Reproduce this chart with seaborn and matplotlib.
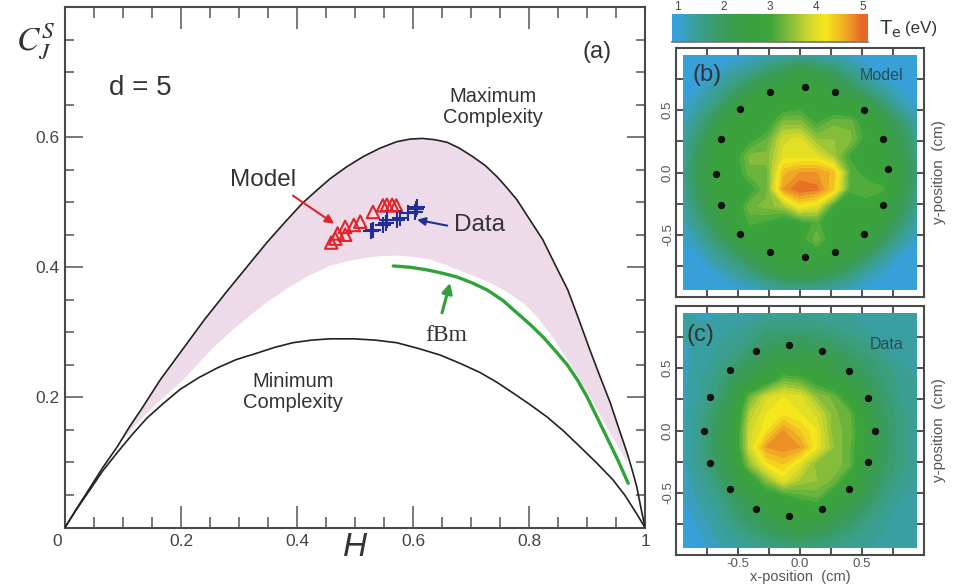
#%% LIBS
import numpy as np
import pandas as pd
import matplotlib.pyplot as plt
import seaborn as sns
from matplotlib.colors import LinearSegmentedColormap
from matplotlib.transforms import ScaledTranslation

#%% DATA :: PANEL A
max_H = [0, .02, .043, .065, .09, .11, .134, .165, .198, .24, .281, .315, .348, .38, .41, .435, .457, .485, .514, .543, .572, .595, .616, .638, .659, .68, .703, .725, .745, .762, .779, .80, .824, .845, .867, .885, .905, .922, .94, .955, .969, .978, .986, .993, 1]
max_C = [0, .029, .061, .092, .124, .153, .185, .228, .268, .319, .365, .402, .438, .47, .499, .519, .536, .554, .57, .583, .593, .597, .598, .596, .592, .583, .57, .556, .539, .522, .504, .475, .442, .404, .365, .322, .273, .233, .192, .152, .115, .088, .062, .03, 0]
min_H = [0, .02, .043, .065, .09, .115, .141, .17, .198, .23, .262, .295, .331, .362, .393, .425, .457, .497, .535, .572, .61, .647, .682, .716, .745, .772, .80, .831, .86, .888, .917, .945, .965, .985, 1]
min_C = [0, .028, .058, .087, .115, .142, .168, .191, .212, .23, .245, .258, .268, .277, .284, .288, .29, .29, .288, .284, .275, .265, .252, .238, .223, .207, .19, .17, .148, .124, .099, .073, .05, .022, 0]
low_H = [.09, .115, .14, .17, .204, .23, .255, .287, .319, .354, .388, .42, .457, .485, .514, .543, .572, .60, .629, .658, .686, .71, .733, .762, .79, .814, .837, .859, .882, .905, .923, .94, .955, .969]
low_C = [.124, .15, .175, .2, .227, .252, .276, .302, .326, .35, .37, .387, .402, .409, .414, .417, .418, .416, .412, .403, .393, .385, .376, .362, .345, .324, .297, .268, .235, .201, .173, .145, .122, .099]
fbm_H = [.566, .595, .624, .65, .676, .702, .728, .755, .779, .802, .824, .845, .866, .884, .9, .917, .934, .953, .971]
fbm_C = [.402, .4, .396, .391, .385, .376, .365, .349, .33, .312, .293, .272, .25, .226, .201, .17, .139, .104, .068]
model_H = [.459, .466, .47, .483, .483, .498, .509, .531, .548, .555, .564, .571]
model_C = [.438, .444, .452, .45, .462, .465, .47, .485, .495, .496, .496, .495]
data_H = [.528, .531, .548, .553, .555, .572, .578, .591, .603, .605, .607]
data_C = [.456, .458, .465, .468, .472, .473, .476, .484, .485, .49, .492]

#%% DATA :: PANELS B, C (Te in eV, rows from top to bottom)
grid_pos = [-.94, -.806, -.671, -.537, -.403, -.269, -.134, 0, .134, .269, .403, .537, .671, .806, .94]
te_model = [
    [1, 1, 1, 1, 1.1, 1.2, 1.3, 1.4, 1.3, 1.2, 1.1, 1, 1, 1, 1],
    [1, 1, 1.1, 1.3, 1.5, 1.8, 2.1, 2.3, 2.2, 1.9, 1.5, 1.2, 1, 1, 1],
    [1, 1.1, 1.4, 1.7, 2.2, 2.5, 2.6, 2.7, 2.6, 2.4, 2.1, 1.6, 1.3, 1.1, 1],
    [1.1, 1.3, 1.7, 2.3, 2.6, 2.7, 2.8, 2.9, 2.8, 2.7, 2.6, 2.3, 1.8, 1.3, 1.1],
    [1.2, 1.6, 2.2, 2.6, 2.7, 2.8, 3.4, 3.4, 3.0, 3.3, 3.3, 2.8, 2.4, 1.8, 1.3],
    [1.3, 1.9, 2.5, 2.7, 2.9, 3.2, 3.9, 4.0, 3.5, 3.5, 3.4, 2.9, 2.6, 2.1, 1.5],
    [1.4, 2.1, 2.6, 2.8, 3.4, 3.4, 4.0, 4.0, 4.0, 3.6, 3.0, 2.8, 2.6, 2.3, 1.6],
    [1.5, 2.2, 2.6, 2.8, 3.3, 3.3, 4.5, 4.7, 4.7, 4.5, 3.2, 2.9, 2.7, 2.4, 1.7],
    [1.4, 2.1, 2.6, 2.7, 2.9, 3.3, 4.7, 5.0, 4.9, 4.4, 3.1, 3.2, 3.1, 2.3, 1.6],
    [1.3, 1.9, 2.5, 2.7, 3.3, 3.4, 3.6, 4.2, 4.0, 3.0, 2.8, 2.9, 2.6, 2.1, 1.5],
    [1.2, 1.6, 2.2, 2.6, 3.1, 3.0, 2.7, 2.9, 3.1, 2.8, 2.7, 2.7, 2.4, 1.8, 1.3],
    [1.1, 1.3, 1.8, 2.3, 2.6, 2.7, 2.7, 2.9, 3.3, 2.8, 2.6, 2.5, 2.0, 1.4, 1.1],
    [1, 1.1, 1.4, 1.7, 2.2, 2.5, 2.6, 2.7, 2.7, 2.6, 2.4, 1.9, 1.4, 1.1, 1],
    [1, 1, 1.1, 1.3, 1.6, 2.0, 2.3, 2.4, 2.3, 2.1, 1.7, 1.3, 1.1, 1, 1],
    [1, 1, 1, 1, 1.1, 1.2, 1.4, 1.5, 1.4, 1.2, 1.1, 1, 1, 1, 1],
]
te_data = [
    [1.3, 1.2, 1.2, 1.3, 1.3, 1.4, 1.4, 1.4, 1.4, 1.4, 1.4, 1.3, 1.3, 1.3, 1.3],
    [1.3, 1.3, 1.4, 1.4, 1.5, 1.7, 1.7, 1.7, 1.7, 1.6, 1.5, 1.4, 1.4, 1.3, 1.3],
    [1.2, 1.3, 1.4, 1.5, 1.7, 1.9, 2.1, 2.1, 2.0, 1.9, 1.7, 1.6, 1.4, 1.4, 1.3],
    [1.2, 1.3, 1.5, 1.7, 2.0, 2.2, 2.4, 2.4, 2.4, 2.2, 2.0, 1.8, 1.6, 1.4, 1.4],
    [1.2, 1.4, 1.6, 2.0, 2.3, 2.7, 3.3, 3.2, 2.8, 2.5, 2.3, 2.0, 1.7, 1.5, 1.4],
    [1.2, 1.4, 1.7, 2.2, 3.3, 3.9, 4.1, 4.0, 3.5, 3.3, 2.7, 2.2, 1.8, 1.5, 1.4],
    [1.2, 1.5, 1.9, 2.4, 3.7, 4.1, 4.2, 4.1, 3.9, 3.4, 3.2, 2.4, 1.9, 1.6, 1.4],
    [1.2, 1.5, 2.0, 2.5, 3.9, 4.2, 4.7, 4.4, 4.1, 3.4, 3.3, 2.5, 2.0, 1.6, 1.4],
    [1.2, 1.5, 2.0, 2.5, 3.9, 4.7, 4.8, 4.7, 4.1, 3.5, 3.2, 2.5, 2.0, 1.6, 1.4],
    [1.2, 1.5, 1.9, 2.4, 3.5, 4.2, 4.4, 4.0, 3.4, 3.5, 3.2, 2.4, 1.9, 1.6, 1.4],
    [1.1, 1.4, 1.7, 2.2, 2.6, 3.4, 4.0, 3.6, 3.5, 3.3, 2.7, 2.2, 1.8, 1.5, 1.4],
    [1.1, 1.3, 1.5, 1.9, 2.3, 2.6, 2.8, 3.1, 3.2, 2.7, 2.4, 2.0, 1.6, 1.4, 1.3],
    [1.0, 1.2, 1.4, 1.7, 2.0, 2.3, 2.5, 2.6, 2.6, 2.3, 2.0, 1.7, 1.5, 1.3, 1.3],
    [.95, 1.1, 1.3, 1.5, 1.7, 1.9, 2.1, 2.2, 2.1, 1.9, 1.7, 1.5, 1.4, 1.3, 1.3],
    [.9, 1.0, 1.2, 1.3, 1.4, 1.5, 1.6, 1.7, 1.6, 1.5, 1.4, 1.4, 1.3, 1.3, 1.3],
]
probes_b_x = [-.244, .04, .279, -.485, .52, -.635, .668, -.678, .71, -.635, .668, -.483, .52, -.241, .04, .279]
probes_b_y = [.648, .688, .645, .507, .499, .267, .267, -.013, .032, -.259, -.259, -.491, -.491, -.635, -.677, -.635]
probes_c_x = [-.351, -.086, .18, -.568, .394, -.729, .552, -.777, .606, -.724, .552, -.566, .394, -.351, .18, -.086]
probes_c_y = [.635, .689, .635, .483, .477, .271, .265, 0, 0, -.26, -.257, -.472, -.472, -.633, -.633, -.684]

#%% PLOTTING AES
sns.set_theme(style="white")
plt.rcParams['font.family'] = ['Liberation Sans', 'DejaVu Sans']
plt.rcParams['axes.edgecolor'] = '#4a4a4a'
plt.rcParams['text.color'] = '#333333'
W, H_PX = 963, 585
GREY = '#555555'
RED, BLUE, GREEN = '#e0242c', '#1f2f96', '#2fa33a'
te_cmap = LinearSegmentedColormap.from_list("te", [
    (0.0, '#38a0dc'), (0.08, '#3a9fa0'), (0.25, '#3a9c58'), (0.38, '#3aa040'), (0.5, '#3ca53a'),
    (0.6, '#7fbb3c'), (0.7, '#c8d42f'), (0.8, '#f8e81c'), (0.9, '#f0b024'), (1.0, '#e8662a')])

def px_axes(fig, left, top, right, bottom):
    return fig.add_axes([left/W, 1 - bottom/H_PX, (right-left)/W, (bottom-top)/H_PX])

fig = plt.figure(figsize=(9.63, 5.85), dpi=100)

#%% PANEL A
ax = px_axes(fig, 65, 7, 645, 527.5)
upper = [(h, c) for h, c in zip(max_H, max_C) if .09 <= h <= .969]
poly_x = [p[0] for p in upper] + low_H[::-1]
poly_y = [p[1] for p in upper] + low_C[::-1]
ax.fill(poly_x, poly_y, color='#eedbe9', lw=0, zorder=1)
sns.lineplot(x=max_H, y=max_C, ax=ax, color='#222222', lw=1.2, sort=False, estimator=None, zorder=3)
sns.lineplot(x=min_H, y=min_C, ax=ax, color='#222222', lw=1.2, sort=False, estimator=None, zorder=3)
sns.lineplot(x=fbm_H, y=fbm_C, ax=ax, color=GREEN, lw=2.4, sort=False, estimator=None, zorder=3)
ax.scatter(model_H, model_C, marker='^', s=80, facecolors='none', edgecolors=RED, linewidths=1.5, zorder=4)
sns.scatterplot(x=data_H, y=data_C, ax=ax, marker='+', s=120, color=BLUE, linewidth=1.5, zorder=5)

ax.set_xlim(0, 1)
ax.set_ylim(0, 0.8)
ax.set_xticks([0, .2, .4, .6, .8, 1])
ax.set_xticklabels(['0', '0.2', '0.4', '0.6', '0.8', '1'])
ax.set_xticks(np.arange(0, 1.01, .05), minor=True)
ax.set_yticks([.2, .4, .6])
ax.set_yticklabels(['0.2', '0.4', '0.6'])
ax.set_yticks(np.arange(0, .81, .05), minor=True)
ax.tick_params(axis='x', which='major', direction='in', top=True, bottom=True, length=16, width=1.1,
               color=GREY, labelcolor='#444444', labelsize=12.5, pad=5)
ax.tick_params(axis='x', which='minor', direction='in', top=True, bottom=True, length=8, width=1.1, color=GREY)
ax.tick_params(axis='y', which='major', direction='in', left=True, right=True, length=13, width=1.1,
               color=GREY, labelcolor='#444444', labelsize=12.5, pad=4)
ax.tick_params(axis='y', which='minor', direction='in', left=True, right=True, length=6.5, width=1.1, color=GREY)
ax.get_xticklabels()[0].set_transform(ax.get_xticklabels()[0].get_transform()
                                      + ScaledTranslation(-8/72*0.72, 0, fig.dpi_scale_trans))
for s in ax.spines.values():
    s.set_linewidth(1.5)

ax.text(.076, .6755, "d = 5", fontsize=20, ha='left', va='center')
ax.text(.918, .7305, "(a)", fontsize=17, ha='center', va='center')
ax.text(.738, .6465, "Maximum\nComplexity", fontsize=14.5, ha='center', va='center', linespacing=1.15)
ax.text(.393, .2085, "Minimum\nComplexity", fontsize=14.5, ha='center', va='center', linespacing=1.15)
ax.text(.341, .5345, "Model", fontsize=17.5, ha='center', va='center')
ax.text(.714, .465, "Data", fontsize=17.5, ha='center', va='center')
ax.text(.657, .2945, "fBm", fontsize=17, family='Liberation Serif', ha='center', va='center')
ax.annotate("", xy=(.464, .467), xytext=(.393, .51),
            arrowprops=dict(arrowstyle='-|>', color=RED, lw=1.5, shrinkA=0, shrinkB=0, mutation_scale=13))
ax.annotate("", xy=(.607, .473), xytext=(.659, .464),
            arrowprops=dict(arrowstyle='-|>', color=BLUE, lw=1.5, shrinkA=0, shrinkB=0, mutation_scale=12))
ax.annotate("", xy=(.664, .376), xytext=(.65, .33),
            arrowprops=dict(arrowstyle='-|>', color=GREEN, lw=2.2, shrinkA=0, shrinkB=0, mutation_scale=15))
fig.text(36/W, 1 - 41/H_PX, r"$C_J^S$", fontsize=24, math_fontfamily='stix', ha='center', va='center')
fig.text(355/W, 1 - 548/H_PX, "H", fontsize=24, style='italic', ha='center', va='center')

#%% PANELS B, C
def te_panel(axm, values, px, py, label, name, label_xy, name_xy, show_x):
    df = pd.DataFrame(values, index=grid_pos[::-1], columns=grid_pos)
    axm.contourf(df.columns, df.index, df.values, levels=np.arange(.8, 5.21, .15),
                 cmap=te_cmap, vmin=1, vmax=5)
    sns.scatterplot(x=px, y=py, ax=axm, color='#111111', s=28, linewidth=0, zorder=4)
    axm.set_xlim(-1, 1)
    axm.set_ylim(-1, 1)
    axm.set_xticks([-.75, -.5, -.25, 0, .25, .5, .75])
    axm.set_yticks([-.75, -.5, -.25, 0, .25, .5, .75])
    axm.set_xticklabels(['', '-0.5', '', '0.0', '', '0.5', ''] if show_x else [])
    axm.set_yticklabels(['', '-0.5', '', '0.0', '', '0.5', ''], rotation=90, va='center')
    axm.tick_params(axis='both', direction='in', top=True, bottom=True, left=True, right=True, length=5,
                    width=1.2, color='#333333', labelcolor=GREY, labelsize=9.5)
    axm.tick_params(axis='y', pad=1.5)
    axm.tick_params(axis='x', pad=2.5)
    for s in axm.spines.values():
        s.set_linewidth(1.5)
    axm.text(label_xy[0], label_xy[1], label, fontsize=17, ha='center', va='center')
    axm.text(name_xy[0], name_xy[1], name, fontsize=11.5, color='#24505a', ha='center', va='center')
    axm.yaxis.set_label_position('right')
    axm.set_ylabel("y-position  (cm)", fontsize=11, color=GREY, labelpad=6)

axb = px_axes(fig, 676, 48, 924, 297)
te_panel(axb, te_model, probes_b_x, probes_b_y, "(b)", "Model", (-.75, .78), (.66, .78), False)
axc = px_axes(fig, 676, 306, 924, 555)
te_panel(axc, te_data, probes_c_x, probes_c_y, "(c)", "Data", (-.8, .77), (.7, .69), True)
axc.set_xlabel("x-position  (cm)", fontsize=10.5, color=GREY, labelpad=0)

#%% COLORBAR
axcb = px_axes(fig, 672, 14, 868, 42)
axcb.imshow(np.linspace(.89, 5.11, 256)[None, :], cmap=te_cmap, vmin=1, vmax=5, aspect='auto',
            extent=[.89, 5.11, 0, 1])
axcb.set_xticks([1, 2, 3, 4, 5])
axcb.set_yticks([])
axcb.xaxis.tick_top()
axcb.tick_params(axis='x', length=0, labelsize=8.5, labelcolor='#444444', pad=1)
for name, s in axcb.spines.items():
    s.set_visible(name == 'bottom')
    s.set_color('#777777')
fig.text(879/W, 1 - 29/H_PX, r"T$_{\mathrm{e}}$", fontsize=14.5, ha='left', va='center')
fig.text(905/W, 1 - 29/H_PX, "(eV)", fontsize=12.2, ha='left', va='center')

fig.savefig("out.png", dpi=100)
